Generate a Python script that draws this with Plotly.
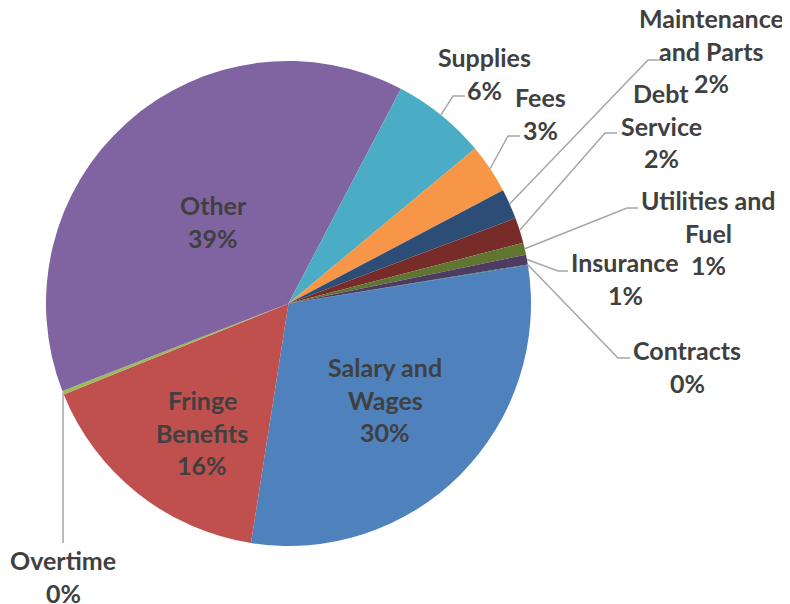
import math
import plotly.graph_objects as go

# ---------------- data ----------------
categories = ["Salary and Wages", "Fringe Benefits", "Overtime", "Other", "Supplies", "Fees",
              "Maintenance and Parts", "Debt Service", "Utilities and Fuel", "Insurance", "Contracts"]
values = [30.0, 16.4, 0.25, 38.55, 6.3, 3.3, 2.0, 1.7, 0.8, 0.65, 0.05]
label_lines = [["Salary and", "Wages"], ["Fringe", "Benefits"], ["Overtime"], ["Other"],
               ["Supplies"], ["Fees"], ["Maintenance", "and Parts"], ["Debt", "Service"],
               ["Utilities and", "Fuel"], ["Insurance"], ["Contracts"]]
colors = ["#4F81BD", "#C0504D", "#9BBB59", "#8064A2", "#4BACC6", "#F79646",
          "#2C4D75", "#772C2A", "#5F7530", "#4D3B62", "#276A7C"]

# ---------------- layout ----------------
PAGE = 8                      # browser body margin
W, H = 790 - PAGE, 604 - PAGE  # figure size so it fills the window
CX, CY, R = 288.5 - PAGE, 303.5 - PAGE, 242.5
ROT = 80.9
FONT = "Lato"
FSIZE = 25
LINE_H = 32.5
TXT = "#404040"
LEADER = "#A6A6A6"

# label block position in window pixels: (center x, first line center y)
label_pos = {
    "Salary and Wages": (385, 367),
    "Fringe Benefits": (202, 400),
    "Overtime": (63, 560),
    "Other": (213, 205),
    "Supplies": (484, 57),
    "Fees": (540, 97),
    "Maintenance and Parts": (711, 18),
    "Debt Service": (661, 93),
    "Utilities and Fuel": (708, 200),
    "Insurance": (625, 262),
    "Contracts": (687, 350),
}
# leader line elbows (window pixels); start point comes from the slice
leaders = {
    "Supplies": [(453, 96), (465, 96)],
    "Fees": [(508, 136), (520, 136)],
    "Maintenance and Parts": [(648, 60), (660, 60)],
    "Debt Service": [(605, 133), (617, 133)],
    "Utilities and Fuel": [(627, 208), (638, 208)],
    "Insurance": [(558, 271), (568, 271)],
    "Contracts": [(618, 358), (630, 358)],
    "Overtime": [(None, 543)],
}

fig = go.Figure()
fig.add_trace(go.Pie(
    labels=categories, values=values, sort=False, direction="clockwise",
    rotation=ROT, marker=dict(colors=colors, line=dict(width=0)),
    textinfo="none", hoverinfo="skip", showlegend=False,
    domain=dict(x=[(CX - R) / W, (CX + R) / W], y=[(H - CY - R) / H, (H - CY + R) / H]),
))

total = sum(values)
cum = 0.0
shapes = []
annotations = []
for cat, v, lines in zip(categories, values, label_lines):
    mid = math.radians(ROT + 360.0 * (cum + v / 2.0) / total)
    cum += v
    ex, ey = CX + R * math.sin(mid), CY - R * math.cos(mid)
    pct = int(math.floor(v / total * 100 + 0.5))
    all_lines = lines + [f"{pct}%"]
    lx, ly = label_pos[cat]
    for k, t in enumerate(all_lines):
        annotations.append(dict(
            x=lx - PAGE, y=ly - PAGE + k * LINE_H, xref="x", yref="y", text=t, showarrow=False,
            xanchor="center", yanchor="middle", borderpad=0,
            font=dict(family=FONT, size=FSIZE, color=TXT, weight="bold"),
        ))
    if cat in leaders:
        pts = [(ex, ey)] + [((ex if px is None else px - PAGE), py - PAGE) for px, py in leaders[cat]]
        path = "M " + " L ".join(f"{px:.2f},{py:.2f}" for px, py in pts)
        shapes.append(dict(type="path", path=path, xref="x", yref="y",
                           line=dict(color=LEADER, width=1.5), layer="above"))

fig.update_layout(
    width=W, height=H, margin=dict(l=0, r=0, t=0, b=0),
    paper_bgcolor="white", plot_bgcolor="rgba(0,0,0,0)",
    xaxis=dict(range=[0, W], visible=False, domain=[0, 1], fixedrange=True),
    yaxis=dict(range=[H, 0], visible=False, domain=[0, 1], fixedrange=True),
    shapes=shapes, annotations=annotations, showlegend=False,
)
fig.write_html("out.html")
